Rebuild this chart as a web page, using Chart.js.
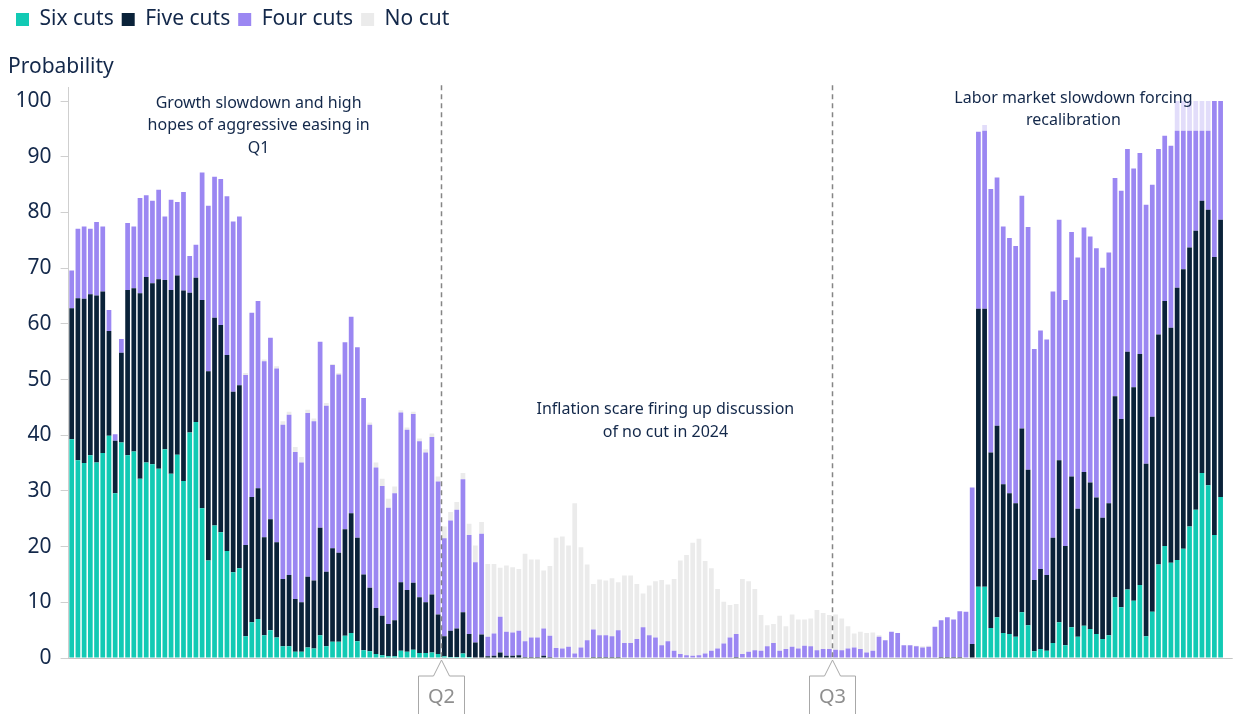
<!DOCTYPE html>
<html>
<head>
<meta charset="utf-8">
<title>Rate cut probabilities</title>
<script src="https://cdn.jsdelivr.net/npm/chart.js@4.4.1/dist/chart.umd.min.js"></script>
<style>
  html, body { margin: 0; padding: 0; background: #ffffff; }
  #wrap { width: 1235px; height: 714px; }
</style>
</head>
<body>
<div id="wrap"><canvas id="cuts-chart" width="1235" height="714"></canvas></div>
<script>
// Probability (%) of each number of cuts, one bar per trading day
const sixCuts = [
  39.3, 35.5, 35.0, 36.4, 35.1, 36.8, 39.9, 29.6, 38.7, 36.4,
  37.1, 32.2, 35.1, 34.8, 34.0, 37.5, 33.1, 36.5, 31.8, 40.5,
  42.4, 26.9, 17.5, 23.8, 22.6, 19.2, 15.4, 16.1, 3.9, 6.4,
  7.0, 4.1, 5.0, 3.7, 2.1, 2.1, 1.1, 1.1, 1.9, 1.7,
  4.1, 2.1, 2.9, 2.9, 4.0, 4.5, 3.0, 1.4, 1.2, 0.7,
  0.5, 0.3, 0.3, 1.3, 1.1, 1.5, 0.9, 0.9, 1.0, 0.7,
  0.3, 0.2, 0.2, 0.8, 0.2, 0.1, 0.1, 0, 0, 0,
  0, 0, 0, 0, 0, 0, 0, 0, 0, 0,
  0, 0, 0, 0, 0, 0, 0, 0, 0, 0,
  0, 0, 0, 0, 0, 0, 0, 0, 0, 0,
  0, 0, 0, 0, 0, 0, 0, 0, 0, 0,
  0, 0, 0, 0, 0, 0, 0, 0, 0, 0,
  0, 0, 0, 0, 0, 0, 0, 0, 0, 0,
  0, 0, 0, 0, 0, 0, 0, 0, 0, 0,
  0, 0, 0, 0, 0, 0, 12.8, 12.8, 5.4, 7.3,
  4.5, 4.3, 3.8, 8.2, 5.9, 1.2, 1.6, 1.3, 2.7, 6.4,
  2.3, 5.5, 3.8, 5.8, 5.2, 4.3, 3.4, 4.1, 10.9, 9.1,
  12.3, 10.3, 13.1, 3.9, 8.3, 16.8, 20.1, 17.1, 17.6, 19.6,
  23.6, 26.6, 33.2, 31.0, 22.1, 28.9
];
const fiveCuts = [
  23.5, 29.1, 29.5, 28.9, 30.0, 29.0, 18.8, 9.4, 16.1, 29.7,
  29.3, 33.3, 33.3, 32.5, 34.0, 30.4, 33.0, 32.2, 34.2, 25.1,
  25.9, 37.4, 34.0, 37.3, 37.2, 35.2, 32.4, 32.9, 16.4, 22.5,
  23.5, 17.6, 19.9, 17.1, 12.1, 12.8, 9.5, 8.9, 12.7, 12.2,
  19.3, 13.4, 16.8, 16.0, 19.1, 21.5, 18.6, 13.6, 11.4, 8.3,
  7.1, 5.8, 6.5, 12.3, 11.1, 12.0, 10.0, 9.1, 10.4, 7.1,
  3.6, 4.7, 5.1, 7.4, 4.1, 2.7, 4.1, 0.3, 0.4, 1.0,
  0.4, 0.4, 0.5, 0.2, 0.2, 0.2, 0.4, 0.2, 0, 0,
  0, 0, 0, 0, 0.2, 0.2, 0.2, 0.2, 0.2, 0,
  0, 0, 0.1, 0.1, 0, 0, 0, 0, 0, 0,
  0, 0, 0, 0, 0, 0, 0, 0.2, 0, 0,
  0, 0, 0, 0, 0, 0, 0, 0, 0, 0,
  0, 0, 0, 0, 0, 0, 0, 0, 0, 0,
  0, 0, 0, 0, 0, 0, 0, 0, 0, 0,
  0.2, 0.2, 0.2, 0.2, 0, 2.5, 49.9, 49.9, 31.5, 34.4,
  26.7, 25.3, 24.0, 33.0, 27.9, 12.8, 14.4, 13.6, 18.9, 29.1,
  17.8, 27.1, 23.0, 27.6, 26.3, 24.5, 21.8, 23.7, 36.1, 33.8,
  42.7, 38.3, 41.5, 31.0, 35.0, 41.3, 44.0, 42.2, 48.9, 50.2,
  50.1, 50.1, 48.9, 49.5, 49.9, 49.8
];
const fourCuts = [
  6.8, 12.5, 13.0, 11.8, 13.2, 11.7, 3.8, 1.2, 2.5, 12.0,
  11.1, 17.1, 14.7, 14.8, 16.1, 11.4, 16.2, 13.2, 17.7, 6.6,
  5.9, 22.9, 29.7, 25.3, 26.2, 28.5, 30.6, 30.3, 30.5, 33.1,
  33.6, 31.6, 32.6, 31.2, 27.7, 28.8, 26.4, 25.1, 29.4, 28.6,
  33.4, 29.8, 32.9, 32.0, 33.6, 35.3, 34.2, 31.7, 29.3, 25.2,
  23.3, 20.9, 22.8, 30.5, 28.8, 30.3, 28.0, 26.9, 28.3, 23.9,
  17.6, 19.8, 21.3, 23.9, 17.8, 14.4, 18.1, 3.5, 4.0, 6.4,
  4.3, 4.2, 4.4, 2.8, 3.5, 3.5, 4.9, 3.8, 1.8, 1.7,
  2.0, 0.8, 1.9, 3.2, 4.9, 3.9, 3.9, 3.7, 4.8, 2.7,
  2.7, 3.4, 5.4, 4.0, 3.7, 2.3, 3.0, 1.3, 0.7, 0.5,
  0.4, 0.5, 0.8, 1.3, 1.7, 2.6, 3.7, 4.1, 0.7, 1.1,
  1.4, 1.3, 2.1, 2.7, 1.3, 1.6, 2.0, 1.7, 2.2, 2.1,
  1.4, 1.6, 1.6, 1.5, 1.4, 1.7, 1.9, 1.6, 1.0, 1.3,
  3.8, 3.2, 4.7, 4.5, 2.3, 2.3, 2.1, 1.9, 2.0, 5.6,
  6.6, 7.1, 6.7, 8.2, 8.3, 28.1, 31.8, 32.0, 47.3, 44.6,
  46.3, 45.8, 46.2, 41.8, 43.6, 41.5, 42.8, 42.3, 44.2, 43.2,
  44.2, 43.9, 45.1, 43.9, 44.2, 44.8, 44.9, 45.0, 39.2, 41.0,
  36.4, 39.3, 36.1, 46.5, 41.7, 33.3, 29.7, 32.7, 28.2, 24.9,
  21.0, 18.0, 12.6, 14.2, 28.0, 21.3
];
const noCut = [
  0, 0, 0, 0, 0, 0, 0, 0, 0, 0,
  0, 0, 0, 0, 0, 0, 0, 0, 0, 0,
  0, 0, 0, 0, 0, 0, 0, 0, 0.4, 0,
  0, 0.3, 0, 0.4, 0.6, 0.5, 0.9, 1.0, 0.6, 0.5,
  0, 0.5, 0.2, 0.3, 0, 0, 0, 0, 0.4, 0.9,
  1.3, 1.6, 1.2, 0.4, 0.4, 0.4, 0.5, 0.6, 0.6, 0.9,
  2.1, 1.5, 1.4, 1.1, 2.0, 3.0, 2.1, 13.1, 12.5, 8.8,
  11.9, 11.7, 11.1, 15.7, 14.0, 14.0, 10.4, 12.5, 19.8, 20.1,
  18.2, 27.0, 18.0, 13.6, 8.2, 10.0, 9.8, 10.4, 8.6, 12.1,
  12.1, 9.9, 6.1, 8.9, 10.1, 11.7, 10.2, 12.9, 16.8, 18.0,
  20.3, 20.9, 16.6, 14.8, 10.7, 7.5, 5.8, 5.4, 13.5, 12.7,
  11.0, 6.4, 3.8, 3.4, 6.3, 4.1, 5.8, 5.2, 4.7, 5.0,
  7.2, 6.5, 6.1, 6.3, 5.7, 4.0, 2.5, 3.1, 3.5, 3.3,
  0.3, 0, 0, 0, 0, 0, 0.1, 0.2, 0.2, 0,
  0, 0, 0, 0, 0, 0, 0, 1.0, 0, 0,
  0, 0, 0, 0, 0, 0, 0, 0, 0, 0,
  0, 0, 0, 0, 0, 0, 0, 0, 0, 0,
  0, 0, 0, 0, 0, 0, 0, 0, 5.3, 5.3,
  5.3, 5.3, 5.3, 5.3, 0, 0
];

const yTicks = [0, 10, 20, 30, 40, 50, 60, 70, 80, 90, 100];

// Quarter boundaries: the dashed line sits after these bars
const quarterLabels = ['Q2', 'Q3'];
const quarterAfterBar = [59, 122];

// Commentary boxes
const noteLines = [
  ['Growth slowdown and high', 'hopes of aggressive easing in', 'Q1'],
  ['Inflation scare firing up discussion', 'of no cut in 2024'],
  ['Labor market slowdown forcing', 'recalibration']
];
// anchor of each note: [bar index, probability]
const noteAnchors = [[30.1, 99.6], [95.6, 44.6], [161.3, 100.5]];

const FONT = "'Noto Sans', 'Open Sans', sans-serif";
const TEXT_COLOR = '#13284a';
const COLORS = {
  six: '#12cab4',
  five: '#0a2239',
  four: '#9b87f2',
  none: '#ebebeb',
  noneLate: '#e2ddfa'
};

const labels = sixCuts.map((_, i) => String(i));

// Draw quarter markers, callouts, notes and the extended baseline
const overlayPlugin = {
  id: 'overlay',
  afterDatasetsDraw(chart) {
    const { ctx, chartArea, scales } = chart;
    const x = scales.x;
    const y = scales.y;
    ctx.save();

    // baseline
    ctx.strokeStyle = '#c4c4c4';
    ctx.lineWidth = 1;
    ctx.beginPath();
    ctx.moveTo(chartArea.left, chartArea.bottom + 0.5);
    ctx.lineTo(chartArea.right + 9, chartArea.bottom + 0.5);
    ctx.stroke();

    quarterLabels.forEach((label, k) => {
      const i = quarterAfterBar[k];
      const px = Math.round((x.getPixelForValue(i) + x.getPixelForValue(i + 1)) / 2) + 0.5;

      ctx.strokeStyle = '#858585';
      ctx.lineWidth = 1.5;
      ctx.setLineDash([5, 4]);
      ctx.beginPath();
      ctx.moveTo(px, chartArea.top - 2);
      ctx.lineTo(px, chartArea.bottom);
      ctx.stroke();
      ctx.setLineDash([]);

      // callout box with a notch pointing at the axis
      const top = chartArea.bottom + 18;
      ctx.fillStyle = '#ffffff';
      ctx.strokeStyle = '#a8a8a8';
      ctx.lineWidth = 1;
      ctx.beginPath();
      ctx.moveTo(px - 23, chart.height + 2);
      ctx.lineTo(px - 23, top);
      ctx.lineTo(px - 8, top);
      ctx.lineTo(px, chartArea.bottom + 2);
      ctx.lineTo(px + 8, top);
      ctx.lineTo(px + 23, top);
      ctx.lineTo(px + 23, chart.height + 2);
      ctx.fill();
      ctx.stroke();

      ctx.fillStyle = '#8f8f8f';
      ctx.font = `20px ${FONT}`;
      ctx.textAlign = 'center';
      ctx.textBaseline = 'middle';
      ctx.fillText(label, px, top + 21);
    });

    ctx.fillStyle = TEXT_COLOR;
    ctx.font = `16px ${FONT}`;
    ctx.textAlign = 'center';
    ctx.textBaseline = 'middle';
    noteLines.forEach((lines, k) => {
      const cx = x.getPixelForValue(noteAnchors[k][0]);
      const cy = y.getPixelForValue(noteAnchors[k][1]);
      lines.forEach((line, j) => ctx.fillText(line, cx, cy + j * 22.5));
    });

    ctx.restore();
  }
};

function buildDataset(label, data, color) {
  return {
    label: label,
    data: data,
    backgroundColor: color,
    borderWidth: 0,
    barPercentage: 0.76,
    categoryPercentage: 1
  };
}

function createChart() {
  const canvas = document.getElementById('cuts-chart');

  new Chart(canvas, {
    type: 'bar',
    data: {
      labels: labels,
      datasets: [
        buildDataset('Six cuts', sixCuts, COLORS.six),
        buildDataset('Five cuts', fiveCuts, COLORS.five),
        buildDataset('Four cuts', fourCuts, COLORS.four),
        // late-sample no-cut caps show as a pale lavender in the original
        buildDataset('No cut', noCut, ctx => (ctx.dataIndex >= 140 ? COLORS.noneLate : COLORS.none))
      ]
    },
    options: {
      responsive: false,
      devicePixelRatio: 1,
      animation: false,
      layout: { padding: { left: 8, right: 11.3, top: 1, bottom: 56 } },
      plugins: {
        legend: {
          position: 'top',
          align: 'start',
          labels: {
            boxWidth: 13,
            boxHeight: 13,
            padding: 8,
            color: TEXT_COLOR,
            font: { family: FONT, size: 21 }
          }
        },
        title: {
          display: true,
          text: 'Probability',
          position: 'top',
          align: 'start',
          weight: 500,
          color: TEXT_COLOR,
          font: { family: FONT, size: 21, weight: 'normal' },
          padding: { top: 14, bottom: 8 }
        },
        tooltip: { enabled: false }
      },
      scales: {
        x: {
          stacked: true,
          ticks: { display: false },
          grid: { display: false },
          border: { display: false },
          afterFit: scale => { scale.height = 0; }
        },
        y: {
          stacked: true,
          min: 0,
          max: 102.5,
          afterBuildTicks: scale => { scale.ticks = yTicks.map(v => ({ value: v })); },
          afterFit: scale => { scale.width = 60.6; },
          ticks: {
            color: TEXT_COLOR,
            padding: 9,
            font: { family: FONT, size: 21 }
          },
          grid: { drawOnChartArea: false, tickLength: 8, color: '#cfcfcf' },
          border: { color: '#cfcfcf' }
        }
      }
    },
    plugins: [overlayPlugin]
  });
}

document.addEventListener('DOMContentLoaded', createChart);
</script>
</body>
</html>
